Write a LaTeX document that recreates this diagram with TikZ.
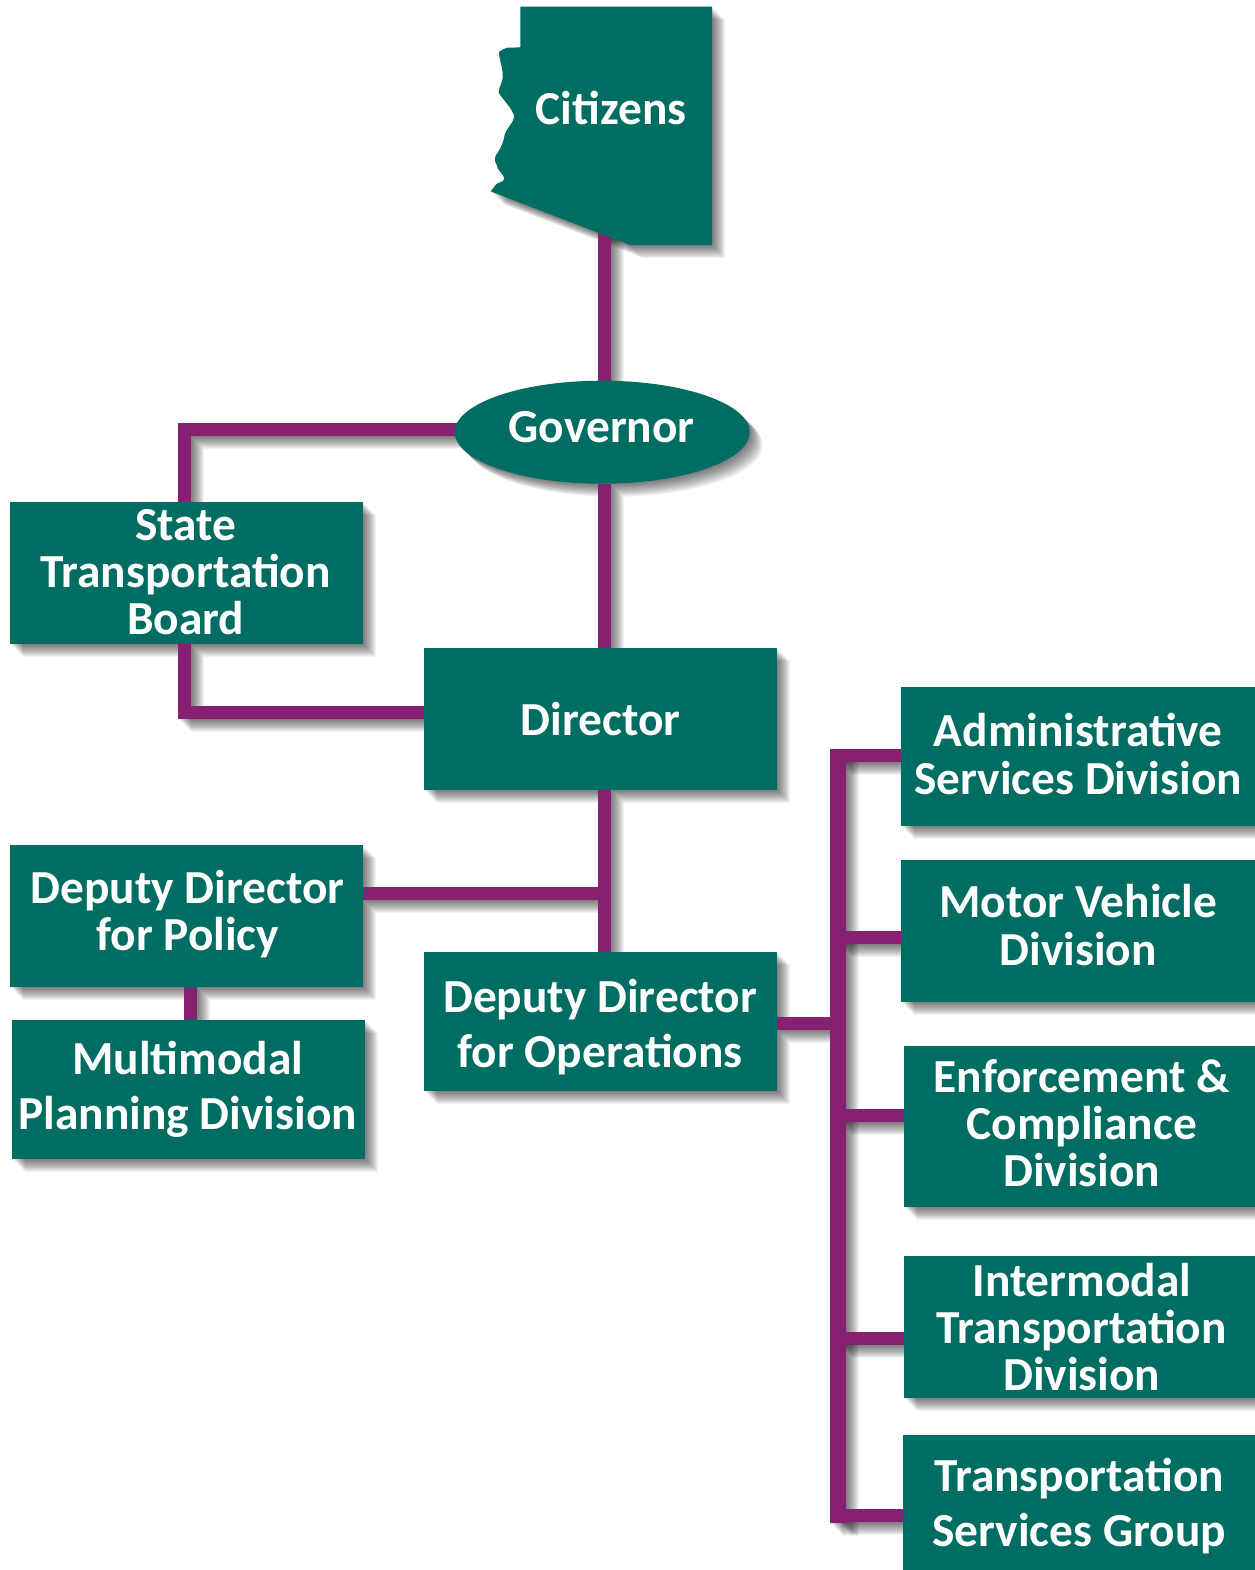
\documentclass[tikz,border=0pt]{standalone}
\usepackage{fontspec}
\setmainfont{Carlito}
\usetikzlibrary{shapes.geometric}
\pgfdeclarelayer{shadowlayer}
\pgfdeclarelayer{linelayer}
\pgfsetlayers{shadowlayer,linelayer,main}
\definecolor{adotgreen}{HTML}{006D62}
\definecolor{adotpurple}{HTML}{862070}
\tikzset{
  panel/.style={fill=adotgreen,draw=none,inner sep=0pt,outer sep=0pt},
  boxnode/.style={panel,rectangle},
  ovalnode/.style={panel,ellipse},
  lab/.style={text=white,align=center,inner sep=0pt,font=\fontsize{23.7pt}{#1}\selectfont\bfseries},
  lab/.default=23.5pt,
}
% soft shadow of a filled outline: stacked copies sliding down-right
\newcommand\softfill[1]{%
  \begin{pgfonlayer}{shadowlayer}
  \foreach \i in {1,...,13}{%
  \begin{scope}[transform canvas={shift={(\i,\i)}}]
  \path[fill=black,opacity=0.05] #1;
  \end{scope}}
  \end{pgfonlayer}}
% connector with its soft shadow: width in px, path
\newcommand\softline[2]{%
  \begin{pgfonlayer}{shadowlayer}
  \foreach \i in {1,...,13}{%
  \begin{scope}[transform canvas={shift={(\i,\i)}}]
  \draw[black,opacity=0.05,line join=miter,line width=#1*0.5pt] #2;
  \end{scope}}
  \end{pgfonlayer}
  \begin{pgfonlayer}{linelayer}
  \draw[adotpurple,line join=miter,line width=#1*0.5pt] #2;
  \end{pgfonlayer}}
\newcommand\azoutline{(519.7,6) -- (711.5,6) -- (711.5,244.5) -- (630,244.5) -- (490,190.7) -- (495,184)
  .. controls (498,181) and (503,182) .. (503.5,178) .. controls (503.5,173) and (496,170) .. (496,164)
  .. controls (493,160) and (494,155) .. (497,152) .. controls (501,146) and (503,140) .. (504,134)
  .. controls (506,127) and (513,122) .. (513.5,116) .. controls (512,108) and (503,100) .. (498,92)
  .. controls (498,86) and (503,80) .. (502,74) .. controls (502,66) and (498,58) .. (498.5,51)
  .. controls (503,48) and (507,46) .. (511,47) -- (519.7,46.5) -- cycle}
\begin{document}
\begin{tikzpicture}[x=0.5pt,y=-0.5pt]
\useasboundingbox (-0.7,-0.7) rectangle (1253.3,1569.3);
% shapes
\path[panel] \azoutline;
\softfill{\azoutline}
\node[lab] (citizens) at (610.5,107) {Citizens};
\coordinate (citizensfoot) at (603.8,226);
\node[ovalnode,minimum width=147.5pt,minimum height=51.5pt] (governor) at (601.5,431.5) {};
\node[boxnode,minimum width=176.5pt,minimum height=71pt] (stb) at (185.75,572) {};
\node[boxnode,minimum width=176.5pt,minimum height=71pt] (director) at (599.5,718) {};
\node[boxnode,minimum width=176.5pt,minimum height=71pt] (ddp) at (185.75,915) {};
\node[boxnode,minimum width=176.5pt,minimum height=69.5pt] (mpd) at (187.75,1088.5) {};
\node[boxnode,minimum width=176.5pt,minimum height=69.5pt] (ddo) at (599.5,1020.5) {};
\node[boxnode,minimum width=177pt,minimum height=69.5pt] (asd) at (1077,755.5) {};
\node[boxnode,minimum width=177pt,minimum height=71pt] (mvd) at (1077,930) {};
\node[boxnode,minimum width=175.5pt,minimum height=80.5pt] (ecd) at (1078.5,1125.5) {};
\node[boxnode,minimum width=175.5pt,minimum height=71pt] (itd) at (1078.5,1326) {};
\node[boxnode,minimum width=176pt,minimum height=68pt] (tsg) at (1078,1502.5) {};
% labels
\node[lab] (tgovernor) at (601,426) {Governor};
\node[lab] (tdirector) at (600,718) {Director};
\node[lab=23.5pt] (tstb) at (185,571) {State\\Transportation\\Board};
\node[lab=23.5pt] (tddp) at (187,913) {Deputy Director\\for Policy};
\node[lab=27.5pt] (tmpd) at (187,1089) {Multimodal\\Planning Division};
\node[lab=27.5pt] (tddo) at (599.5,1026) {Deputy Director\\for Operations};
\node[lab=24pt] (tasd) at (1077.5,753) {Administrative\\Services Division};
\node[lab=24pt] (tmvd) at (1077.5,924.5) {Motor Vehicle\\Division};
\node[lab=23.5pt] (tecd) at (1081,1122) {Enforcement \&\\Compliance\\Division};
\node[lab=23.5pt] (titd) at (1081,1326) {Intermodal\\Transportation\\Division};
\node[lab=27.5pt] (ttsg) at (1078.5,1505) {Transportation\\Services Group};
% shadows of shapes
\softfill{(governor.center) ellipse [x radius=147.5,y radius=51.5]}
\foreach \n in {stb,director,ddp,mpd,ddo,asd,mvd,ecd,itd,tsg}{\softfill{(\n.north west) rectangle (\n.south east)}}
% connector guides
\coordinate (cx) at (603.8,0);
\coordinate (boardleft) at (183.8,428.8);
\coordinate (boardlow) at (183.8,712);
\coordinate (policyjoin) at (597.5,892.5);
\coordinate (policydown) at (190,0);
\coordinate (opsjoin) at (831,1023);
\coordinate (rhead) at (837.3,748);
\coordinate (rfoot) at (837.3,1522);
\coordinate (rtop) at (837.3,754.5);
\coordinate (rmvd) at (837.3,937);
\coordinate (recd) at (837.3,1114.5);
\coordinate (ritd) at (837.3,1337.5);
\coordinate (rtsg) at (837.3,1515);
% connectors
\softline{13}{(citizensfoot) -- (cx |- governor.north)}
\softline{13}{(cx |- governor.south) -- (cx |- director.north)}
\softline{13}{(cx |- director.south) -- (cx |- ddo.north)}
\softline{13}{(governor.center |- boardleft) -- (boardleft) -- (boardleft |- stb.north)}
\softline{13}{(boardlow |- stb.south) -- (boardlow) -- (director.west |- boardlow)}
\softline{13}{(ddp.east |- policyjoin) -- (policyjoin)}
\softline{13}{(policydown |- ddp.south) -- (policydown |- mpd.north)}
\softline{13}{(ddo.east |- opsjoin) -- (opsjoin)}
\softline{16}{(rhead) -- (rfoot)}
\softline{13}{(rtop) -- (asd.west |- rtop)}
\softline{13}{(rmvd) -- (mvd.west |- rmvd)}
\softline{13}{(recd) -- (ecd.west |- recd)}
\softline{13}{(ritd) -- (itd.west |- ritd)}
\softline{13}{(rtsg) -- (tsg.west |- rtsg)}
\end{tikzpicture}
\end{document}
